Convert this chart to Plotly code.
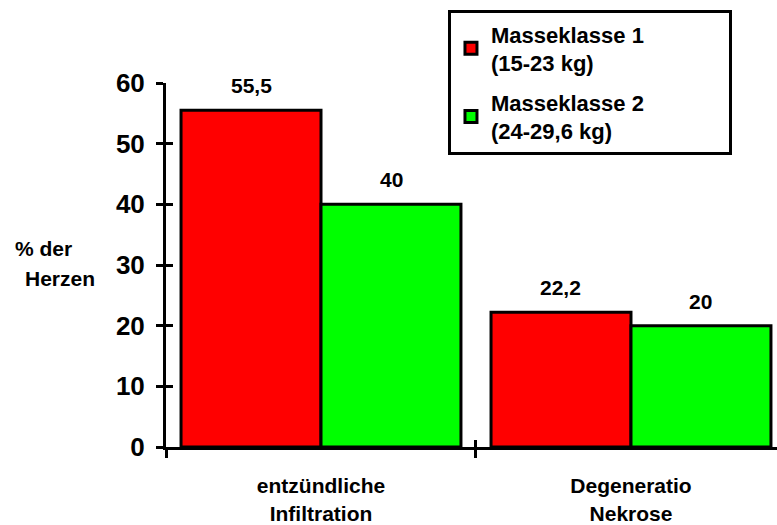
import plotly.graph_objects as go

# Anteil der Herzen mit Befund, nach Masseklasse
categories = ["entzündliche<br>Infiltration", "Degeneratio<br>Nekrose"]
klasse1 = [55.5, 22.2]
klasse2 = [40, 20]
series_names = ["Masseklasse 1", "Masseklasse 2"]
series_ranges = ["(15-23 kg)", "(24-29,6 kg)"]
series_colors = ["#ff0000", "#00ff00"]
y_ticks = [0, 10, 20, 30, 40, 50, 60]

FONT = "Arial, Liberation Sans, sans-serif"
LABEL_SIZE = 21
PAD = "&nbsp;" * 13  # widens the legend frame

fig = go.Figure()
for i, (name, rng, vals, col) in enumerate(zip(series_names, series_ranges,
                                               [klasse1, klasse2], series_colors)):
    fig.add_trace(go.Bar(
        x=categories, y=vals, name=f"{name}{PAD}<br>{rng}", legendgroup=f"g{i}",
        marker=dict(color=col, line=dict(color="black", width=3)),
    ))

# value labels above each bar
bar_shift = 70
for vals, shift in zip([klasse1, klasse2], [-bar_shift, bar_shift]):
    for c, v in zip(categories, vals):
        fig.add_annotation(
            x=c, y=v, xshift=shift, yshift=11, yanchor="bottom",
            text=f"{v:g}".replace(".", ","), showarrow=False,
            font=dict(family=FONT, size=LABEL_SIZE, color="black", weight="bold"),
        )

# y axis title, set horizontally to the left of the axis
title_font = dict(family=FONT, size=LABEL_SIZE, color="black", weight="bold")
fig.add_annotation(xref="paper", yref="paper", x=-0.2504, y=0.544, xanchor="left",
                   yanchor="middle", text="% der", showarrow=False, font=title_font)
fig.add_annotation(xref="paper", yref="paper", x=-0.234, y=0.464, xanchor="left",
                   yanchor="middle", text="Herzen", showarrow=False, font=title_font)

fig.update_layout(
    width=777, height=525,
    margin=dict(l=166, r=0, t=83, b=76),
    paper_bgcolor="white", plot_bgcolor="white",
    barmode="group", bargap=0.097, bargroupgap=0,
    font=dict(family=FONT, color="black"),
    showlegend=True,
    legend=dict(
        x=0.4615, y=1.2, xanchor="left", yanchor="top",
        bgcolor="white", bordercolor="black", borderwidth=3,
        font=dict(family=FONT, size=22, color="black", weight="bold"),
        tracegroupgap=8,
    ),
    xaxis=dict(
        range=[-0.5, 1.471], showline=True, linecolor="black", linewidth=3,
        ticks="outside", tickson="boundaries", ticklen=8, tickwidth=3, tickcolor="black",
        ticklabelstandoff=18,
        showgrid=False, zeroline=False,
        tickfont=dict(family=FONT, size=LABEL_SIZE, color="black", weight="bold"),
    ),
    yaxis=dict(
        range=[0, 60], tickvals=y_ticks, showline=True, linecolor="black", linewidth=3,
        ticks="outside", ticklen=7, tickwidth=3, tickcolor="black",
        ticklabelstandoff=6,
        showgrid=False, zeroline=False,
        tickfont=dict(family=FONT, size=26, color="black", weight="bold"),
    ),
    # overlay axes carrying the inner half of the crossing tick marks
    xaxis2=dict(
        overlaying="x", side="bottom", anchor="y", type="linear",
        range=[-0.5, 1.471], tickvals=[-0.5, 0.5, 1.5],
        ticks="inside", ticklen=7, tickwidth=3, tickcolor="black",
        showticklabels=False, showline=False, showgrid=False, zeroline=False,
    ),
    yaxis2=dict(
        overlaying="y", side="left", anchor="x", range=[0, 60], tickvals=y_ticks,
        ticks="inside", ticklen=7, tickwidth=3, tickcolor="black",
        showticklabels=False, showline=False, showgrid=False, zeroline=False,
    ),
)

# invisible trace so the overlay axes are drawn
fig.add_trace(go.Scatter(x=[-0.5], y=[0], xaxis="x2", yaxis="y2", mode="markers",
                         marker=dict(opacity=0), showlegend=False, hoverinfo="skip"))

fig.write_html("out.html")
